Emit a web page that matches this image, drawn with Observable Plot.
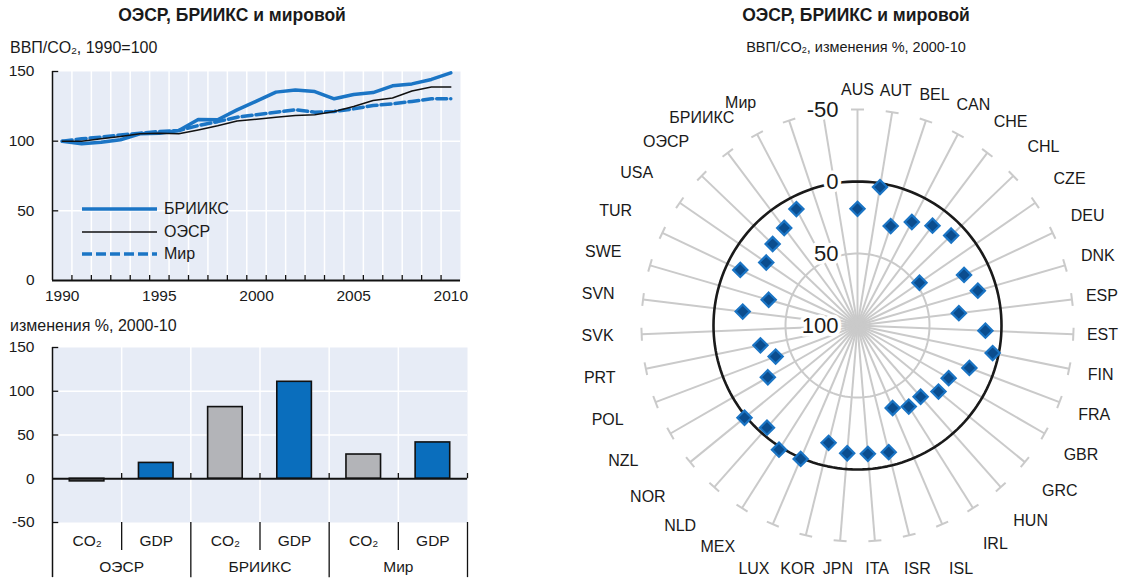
<!DOCTYPE html>
<html>
<head>
<meta charset="utf-8">
<script src="https://cdn.jsdelivr.net/npm/d3@7"></script>
<script src="https://cdn.jsdelivr.net/npm/@observablehq/plot@0.6"></script>
<style>
  html, body { margin: 0; padding: 0; background: #fff; }
  #root { position: relative; width: 1127px; height: 581px; overflow: hidden; color: #1a1a1a;
          font-family: "Liberation Sans", Arial, sans-serif; }
  .abs { position: absolute; white-space: nowrap; }
  .title { font-weight: bold; font-size: 17.5px; line-height: 22px; text-align: center; }
  .sub { font-size: 16px; line-height: 22px; }
  .legrow { display: flex; align-items: center; height: 22.5px; font-size: 16px; }
  .legrow svg { display: block; margin-right: 7px; }
  sub { font-size: 62%; vertical-align: -0.15em; line-height: 0; }
  svg.plot { max-width: none !important; }
</style>
</head>
<body>
<div id="root">
  <div class="abs title" style="left:0;top:4px;width:464px;">ОЭСР, БРИИКС и мировой</div>
  <div class="abs sub" style="left:10px;top:37px;">ВВП/CO<sub>2</sub>, 1990=100</div>
  <div class="abs sub" style="left:10px;top:315px;">изменения %, 2000-10</div>
  <div class="abs title" style="left:656px;top:4px;width:400px;">ОЭСР, БРИИКС и мировой</div>
  <div class="abs sub" style="left:656px;top:36px;width:400px;text-align:center;font-size:14.5px;">ВВП/CO<sub>2</sub>, изменения %, 2000-10</div>
  <div id="line" class="abs" style="left:0;top:60px;width:480px;height:250px;"></div>
  <div id="bars" class="abs" style="left:0;top:335px;width:480px;height:246px;"></div>
  <div id="radar" class="abs" style="left:567px;top:60px;width:580px;height:530px;"></div>
  <div id="legend" class="abs" style="left:82px;top:198px;"></div>
</div>
<script>
// ---------- data ----------
const years = [1990,1991,1992,1993,1994,1995,1996,1997,1998,1999,2000,2001,2002,2003,2004,2005,2006,2007,2008,2009,2010];
const briicsIndex = [100,98.1,99.3,101,105.3,105.7,107.7,115.6,115.4,122.5,128.7,135.2,136.8,135.6,130.4,133.5,134.9,139.7,141.1,144.3,149];
const oecdIndex   = [100,100,101.7,103.3,105.3,105.7,105.3,108,111,114.4,115.8,117.2,118.4,119,121.3,124.9,129.2,131,136,138.8,138.8];
const worldIndex  = [100,101.7,102.9,104.5,105.7,107,107.7,111.2,114,117.2,119,120.8,122.5,120.8,121.3,123.2,125.6,126.8,128.5,130.4,130.4];
const seriesNames = ["БРИИКС", "ОЭСР", "Мир"];

const groups = ["ОЭСР", "БРИИКС", "Мир"];
const measures = ["CO₂", "GDP"];
const co2Change = [-3, 81.9, 27.7];
const gdpChange = [18.1, 110.8, 41.5];

const countries = ["AUS","AUT","BEL","CAN","CHE","CHL","CZE","DEU","DNK","ESP","EST","FIN","FRA","GBR","GRC","HUN","IRL","ISL","ISR","ITA","JPN","KOR","LUX","MEX","NLD","NOR","NZL","POL","PRT","SVK","SVN","SWE","TUR","USA","ОЭСР","БРИИКС","Мир"];
const ratioChange = [19.0,2.6,27.2,18.8,13.3,9.8,47.7,18.1,13.0,29.1,11.1,4.2,16.9,26.9,27.4,33.9,33.4,37.7,9.4,10.6,11.0,16.1,-0.7,-2.0,5.2,-1.3,28.1,39.2,31.2,null,19.7,35.8,9.9,23.0,18.3,15.3,8.7];
const spokeCategories = [...countries, "", ""]; // two unlabeled spokes
const radialTicks = [-50, 0, 50, 100];

// ---------- styles ----------
const FONT = '"Liberation Sans", Arial, sans-serif';
const BG = "#e7ecf6";
const BLUE = "#1b75c5";
const BARBLUE = "#0a6ebd";
const BARGRAY = "#b3b4b8";
const SPOKE = "#cacaca";
const baseStyle = {fontFamily: FONT, fontSize: "16px", background: "transparent", color: "#1a1a1a", overflow: "visible", maxWidth: "none"};

// ---------- line chart ----------
const rows = years.map((y, i) => ({year: y, b: briicsIndex[i], o: oecdIndex[i], w: worldIndex[i]}));
const boundaries = years.slice(0, -1).map(y => y + 0.5);
const lineChart = Plot.plot({
  width: 480, height: 250,
  marginLeft: 52, marginRight: 20, marginTop: 11, marginBottom: 30,
  style: baseStyle,
  x: {domain: [years[0] - 0.5, years[years.length - 1] + 0.5]},
  y: {domain: [0, 150]},
  marks: [
    Plot.frame({fill: BG, stroke: null}),
    Plot.ruleX(boundaries, {stroke: "white", strokeWidth: 1.5}),
    Plot.ruleY([50, 100], {stroke: "white", strokeWidth: 1.5}),
    Plot.line(rows, {x: "year", y: "w", stroke: BLUE, strokeWidth: 3.5, strokeDasharray: "10,4"}),
    Plot.line(rows, {x: "year", y: "b", stroke: BLUE, strokeWidth: 3.5}),
    Plot.line(rows, {x: "year", y: "o", stroke: "#111", strokeWidth: 1.5}),
    Plot.ruleY([0], {stroke: "#111", strokeWidth: 2}),
    Plot.ruleX([years[0] - 0.5], {y1: 0, y2: 150, stroke: "#111", strokeWidth: 1.5}),
    Plot.ruleX(boundaries, {y1: 0, y2: 3.6, stroke: "#111", strokeWidth: 1.3}),
    Plot.ruleY([50, 100, 150], {x1: years[0] - 0.5, x2: years[0] - 0.18, stroke: "#111", strokeWidth: 1.3}),
    Plot.axisX({ticks: [1990, 1995, 2000, 2005, 2010], tickSize: 0, tickPadding: 9, tickFormat: d => String(d), fontSize: 15.5, label: null}),
    Plot.axisY({ticks: [0, 50, 100, 150], tickSize: 0, tickPadding: 18, tickFormat: d => String(d), fontSize: 15.5, label: null})
  ]
});
document.getElementById("line").append(lineChart);

// legend (HTML)
const legendSpec = [
  {name: seriesNames[0], stroke: BLUE, width: 3.5, dash: null},
  {name: seriesNames[1], stroke: "#111", width: 1.5, dash: null},
  {name: seriesNames[2], stroke: BLUE, width: 3.5, dash: "10,4"}
];
const leg = document.getElementById("legend");
for (const s of legendSpec) {
  const row = document.createElement("div");
  row.className = "legrow";
  row.innerHTML = `<svg width="75" height="12"><line x1="0" x2="75" y1="6" y2="6" stroke="${s.stroke}" stroke-width="${s.width}" ${s.dash ? `stroke-dasharray="${s.dash}"` : ""}/></svg><span>${s.name}</span>`;
  leg.append(row);
}

// ---------- bar chart ----------
const bars = groups.flatMap((g, gi) => [
  {group: g, measure: measures[0], value: co2Change[gi], slot: gi * 2},
  {group: g, measure: measures[1], value: gdpChange[gi], slot: gi * 2 + 1}
]);
const nSlots = bars.length;
const barChart = Plot.plot({
  width: 480, height: 246,
  marginLeft: 52, marginRight: 13, marginTop: 12, marginBottom: 59,
  style: baseStyle,
  x: {domain: [0, nSlots], axis: null},
  y: {domain: [-50, 150]},
  marks: [
    Plot.frame({fill: BG, stroke: null}),
    Plot.ruleX(d3.range(1, nSlots), {y1: -50, y2: 150, stroke: "white", strokeWidth: 1.5}),
    Plot.ruleY([50, 100], {stroke: "white", strokeWidth: 1.5}),
    Plot.rectY(bars, {x1: d => d.slot + 0.25, x2: d => d.slot + 0.75, y1: 0, y2: "value",
      fill: d => d.measure === "GDP" ? BARBLUE : BARGRAY, stroke: "#111", strokeWidth: 1.6}),
    Plot.ruleY([0], {stroke: "#111", strokeWidth: 2}),
    Plot.ruleX(d3.range(1, nSlots + 1), {y1: 0, y2: 6, stroke: "#111", strokeWidth: 1.3}),
    Plot.ruleX([0], {y1: -113, y2: 150, stroke: "#111", strokeWidth: 1.5}),
    Plot.ruleX(d3.range(1, nSlots, 2), {y1: -82, y2: -50, stroke: "#111", strokeWidth: 1.3}),
    Plot.ruleX(d3.range(2, nSlots + 1, 2), {y1: -113, y2: -50, stroke: "#111", strokeWidth: 1.3}),
    Plot.ruleY([-50, 50, 100, 150], {x1: 0, x2: 0.09, stroke: "#111", strokeWidth: 1.3}),
    Plot.axisY({ticks: [-50, 0, 50, 100, 150], tickSize: 0, tickPadding: 18, tickFormat: d => String(d), fontSize: 15.5, label: null}),
    Plot.text(bars, {x: d => d.slot + 0.5, y: -50, dy: 19, text: "measure", fontSize: 15.5}),
    Plot.text(groups, {x: (d, i) => i * 2 + 1, y: -50, dy: 45, text: d => d, fontSize: 15.5})
  ]
});
document.getElementById("bars").append(barChart);

// ---------- radar chart ----------
const N = spokeCategories.length;
const ang = i => i * 2 * Math.PI / N;
const rS = d3.scaleLinear().domain([100, -50]).range([0, 216]);
const R = rS(-50);
const CAP = 6.5;
function labelPos(theta) {
  const s = Math.sin(theta), c = Math.cos(theta);
  if (c < 0 && Math.abs(s) < 0.45) { const yy = 243; return [yy * s / -c, -yy]; }
  const a = s >= 0 ? 245 : 260, b = c >= 0 ? 236 : 243, n = 2.5;
  const r = 1 / Math.pow(Math.pow(Math.abs(s) / a, n) + Math.pow(Math.abs(c) / b, n), 1 / n);
  return [r * s, r * c];
}
const spokes = spokeCategories.map((name, i) => ({name, t: ang(i)}));
const pts = countries.map((name, i) => ({name, v: ratioChange[i], t: ang(i)})).filter(d => d.v != null);
const circ = d3.range(0, 361, 2).map(a => a * Math.PI / 180);
const W = 580, H = 530;
const radar = Plot.plot({
  width: W, height: H, margin: 0,
  style: baseStyle,
  x: {domain: [-W / 2, W / 2], range: [0, W], axis: null},
  y: {domain: [-H / 2, H / 2], range: [H, 0], axis: null},
  marks: [
    Plot.link(spokes, {x1: 0, y1: 0, x2: d => R * Math.sin(d.t), y2: d => R * Math.cos(d.t), stroke: SPOKE, strokeWidth: 2}),
    Plot.link(spokes, {
      x1: d => R * Math.sin(d.t) + CAP * Math.cos(d.t), y1: d => R * Math.cos(d.t) - CAP * Math.sin(d.t),
      x2: d => R * Math.sin(d.t) - CAP * Math.cos(d.t), y2: d => R * Math.cos(d.t) + CAP * Math.sin(d.t),
      stroke: SPOKE, strokeWidth: 2}),
    Plot.line(circ, {x: a => rS(50) * Math.sin(a), y: a => rS(50) * Math.cos(a), stroke: SPOKE, strokeWidth: 2}),
    Plot.line(circ, {x: a => rS(0) * Math.sin(a), y: a => rS(0) * Math.cos(a), stroke: "#1a1a1a", strokeWidth: 2.6}),
    Plot.text(radialTicks, {x: 0, y: v => rS(v), text: v => String(v), textAnchor: "end", dx: -19,
      fontSize: 22, fill: "#1a1a1a", stroke: "white", strokeWidth: 7, paintOrder: "stroke"}),
    Plot.dot(pts, {x: d => rS(d.v) * Math.sin(d.t), y: d => rS(d.v) * Math.cos(d.t), symbol: "diamond2", r: 6.4,
      fill: "#0b4d8e", stroke: "#1a74c4", strokeWidth: 2.2}),
    Plot.text(spokes.filter(d => d.name), {x: d => labelPos(d.t)[0], y: d => labelPos(d.t)[1], text: "name", fontSize: 16, fill: "#1a1a1a"})
  ]
});
document.getElementById("radar").append(radar);
</script>
</body>
</html>
